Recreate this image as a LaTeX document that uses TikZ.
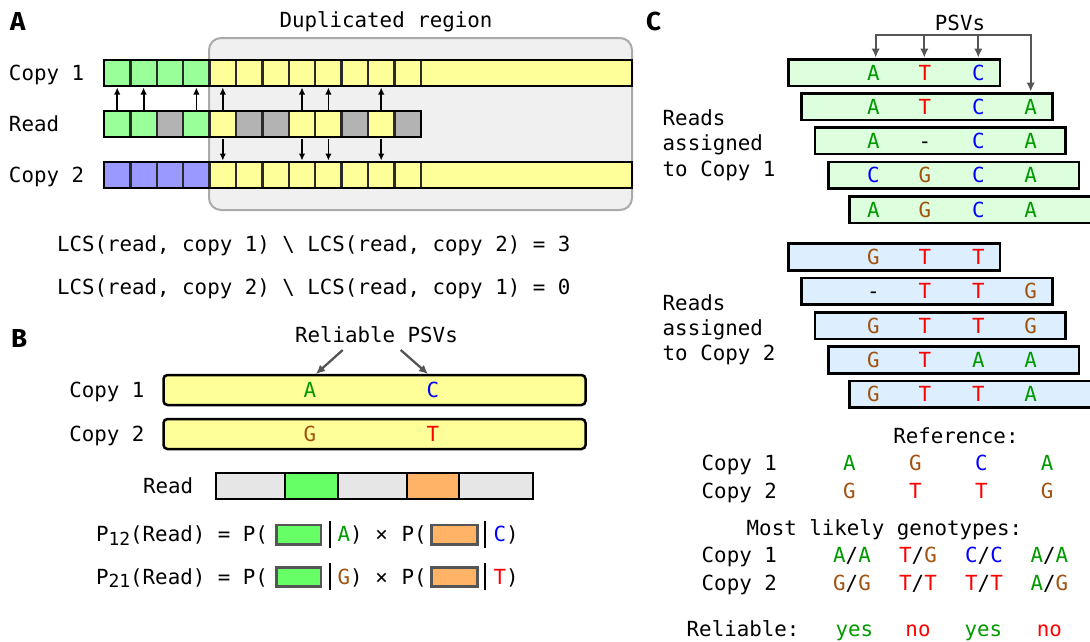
\documentclass[tikz,border=0pt]{standalone}
\usepackage{fontspec}
\setmonofont{DejaVu Sans Mono}
\newfontfamily\panelfont{Fira Sans}
\usetikzlibrary{arrows.meta}

\definecolor{cellG}{HTML}{99FF99}
\definecolor{cellY}{HTML}{FFFF99}
\definecolor{cellR}{HTML}{B3B3B3}
\definecolor{cellB}{HTML}{9999FF}
\definecolor{dupFill}{HTML}{F0F0F0}
\definecolor{dupLine}{HTML}{AAAAAA}
\definecolor{cellLine}{HTML}{2A2A2A}
\definecolor{segGray}{HTML}{E6E6E6}
\definecolor{segGreen}{HTML}{66FF66}
\definecolor{segOrange}{HTML}{FFB366}
\definecolor{boxLine}{HTML}{555555}
\definecolor{readOne}{HTML}{DDFFDD}
\definecolor{readTwo}{HTML}{DDEEFF}
\definecolor{ntA}{HTML}{009900}
\definecolor{ntC}{HTML}{0000FF}
\definecolor{ntG}{HTML}{A0520F}
\definecolor{ntT}{HTML}{FF0000}
\definecolor{arrGray}{HTML}{555555}

\newcommand\mono{\ttfamily\fontsize{20.8}{25}\selectfont}
\newcommand\nuc[1]{\csname nuc#1\endcsname}
\newcommand\nucA{\textcolor{ntA}{A}}
\newcommand\nucC{\textcolor{ntC}{C}}
\newcommand\nucG{\textcolor{ntG}{G}}
\newcommand\nucT{\textcolor{ntT}{T}}
\newcommand\nucN{-}
\newcommand\nucE{}

\tikzset{
  txt/.style={font=\mono, inner sep=0pt, outer sep=0pt},
  panel/.style={font=\panelfont\bfseries\fontsize{26}{26}\selectfont, inner sep=0pt, anchor=base west},
  cell/.style={draw=cellLine, line width=2.3pt, minimum width=26.4pt, minimum height=26pt, inner sep=0pt, outer sep=0pt},
  frame/.style={draw=black, line width=2.6pt},
  blackarrow/.style={draw=black, line width=1.8pt, -{Latex[length=7pt,width=6.5pt]}, shorten <=1.5pt, shorten >=1.5pt},
  grayarrow/.style={draw=arrGray, line width=2.3pt, -{Latex[length=9pt,width=8.5pt]}},
  copybar/.style={draw=black, line width=2.5pt, fill=cellY, rounded corners=4pt, minimum width=422pt, minimum height=30pt, inner sep=0pt, outer sep=0pt},
  seg/.style={draw=black, line width=2pt, minimum height=26.3pt, inner sep=0pt, outer sep=0pt},
  swatch/.style={draw=boxLine, line width=2.5pt, minimum height=19.3pt, inner sep=0pt, outer sep=0pt},
  rd/.style={draw=black, line width=2.5pt, minimum height=26.7pt, inner sep=0pt, outer sep=0pt},
}

\begin{document}
\begin{tikzpicture}[x=1pt, y=-1pt]
\useasboundingbox (0,0) rectangle (1090,641);

% ---------------- Panel A ----------------
\node[panel] (labA) at (10,30) {A};
\node[draw=dupLine, fill=dupFill, line width=2pt, rounded corners=12pt,
      minimum width=423pt, minimum height=172pt, inner sep=0pt] (dup) at (420.5,124) {};
\node[txt, anchor=base] (duptitle) at (386,27) {Duplicated region};

\node[txt, anchor=base west] (lc1) at (9,80) {Copy 1};
\node[txt, anchor=base west] (lrd) at (9,131.7) {Read};
\node[txt, anchor=base west] (lc2) at (9,182.7) {Copy 2};

% copy 1
\foreach \c [count=\i] in {cellG,cellG,cellG,cellG,cellY,cellY,cellY,cellY,cellY,cellY,cellY,cellY}
  \node[cell, fill=\c] (u\i) at ({104+(\i-0.5)*26.4},73) {};
\node[cell, fill=cellY, minimum width=211.2pt] (utail) at (526.4,73) {};
\draw[frame] (u1.north west) rectangle (utail.south east);

% read
\foreach \c [count=\i] in {cellG,cellG,cellR,cellG,cellY,cellR,cellR,cellY,cellY,cellR,cellY,cellR}
  \node[cell, fill=\c] (r\i) at ({104+(\i-0.5)*26.4},124) {};
\draw[frame] (r1.north west) rectangle (r12.south east);

% copy 2
\foreach \c [count=\i] in {cellB,cellB,cellB,cellB,cellY,cellY,cellY,cellY,cellY,cellY,cellY,cellY}
  \node[cell, fill=\c] (d\i) at ({104+(\i-0.5)*26.4},175) {};
\node[cell, fill=cellY, minimum width=211.2pt] (dtail) at (526.4,175) {};
\draw[frame] (d1.north west) rectangle (dtail.south east);

\foreach \i in {1,2,4,5,8,9,11} \draw[blackarrow] (r\i.north) -- (u\i.south);
\foreach \i in {5,8,9,11} \draw[blackarrow] (r\i.south) -- (d\i.north);

\node[txt, anchor=base west] (lcs1) at (57,251) {LCS(read, copy 1) \textbackslash{} LCS(read, copy 2) = 3};
\node[txt, anchor=base west] (lcs2) at (57,294) {LCS(read, copy 2) \textbackslash{} LCS(read, copy 1) = 0};

% ---------------- Panel B ----------------
\node[panel] (labB) at (11,347.5) {B};
\node[txt, anchor=base west] (rel) at (295,342.7) {Reliable PSVs};
\coordinate (relA) at (342.7,350);
\coordinate (relC) at (400.7,350);
\coordinate (tipA) at (316,374);
\coordinate (tipC) at (428,374);

\node[txt, anchor=base west] (bl1) at (69.3,397) {Copy 1};
\node[txt, anchor=base west] (bl2) at (69.3,441) {Copy 2};
\node[copybar] (bc1) at (374.5,390) {};
\node[copybar] (bc2) at (374.5,434) {};
\node[txt, anchor=base] (bA) at (310,397.6) {\nuc{A}};
\node[txt, anchor=base] (bC) at (433,397.6) {\nuc{C}};
\node[txt, anchor=base] (bG) at (310,441.6) {\nuc{G}};
\node[txt, anchor=base] (bT) at (433,441.6) {\nuc{T}};
\draw[grayarrow] (relA) -- (tipA);
\draw[grayarrow] (relC) -- (tipC);

\node[txt, anchor=base west] (brd) at (143,493.3) {Read};
\node[seg, fill=segGray,   minimum width=69pt]   (s1) at (250.5,486) {};
\node[seg, fill=segGreen,  minimum width=52.7pt] (s2) at (311.35,486) {};
\node[seg, fill=segGray,   minimum width=69pt]   (s3) at (372.2,486) {};
\node[seg, fill=segOrange, minimum width=52.3pt] (s4) at (432.85,486) {};
\node[seg, fill=segGray,   minimum width=74pt]   (s5) at (496,486) {};
\draw[frame] (s1.north west) rectangle (s5.south east);

% likelihood formulas
\foreach \y/\sub/\p/\q [count=\k] in {541.7/12/A/C, 584/21/G/T}{
  \node[txt, anchor=base west] (fl\k) at (96,\y)
     {P\raisebox{-3.5pt}{\fontsize{18}{18}\selectfont\sub}(Read) = P(};
  \node[swatch, fill=segGreen, minimum width=44.3pt] (fg\k) at (298.85,{\y-7.05}) {};
  \draw[line width=1.4pt] (330,{\y-20.7}) -- (330,{\y+6.3});
  \node[txt, anchor=base west] (fa\k) at (337.7,\y) {\nuc{\p})};
  \node[txt, anchor=base] (fx\k) at (381.7,\y) {×};
  \node[txt, anchor=base west] (fp\k) at (401.5,\y) {P(};
  \node[swatch, fill=segOrange, minimum width=46pt] (fo\k) at (454.7,{\y-7.05}) {};
  \draw[line width=1.4pt] (485,{\y-20.7}) -- (485,{\y+6.3});
  \node[txt, anchor=base west] (fb\k) at (493.7,\y) {\nuc{\q})};
}

% ---------------- Panel C ----------------
\node[panel] (labC) at (646,30) {C};
\node[txt, anchor=base] (psv) at (960,30) {PSVs};
\coordinate (bk1) at (875.7,35);
\coordinate (bk2) at (924.3,35);
\coordinate (bk3) at (978.3,35);
\coordinate (bk4) at (1030.7,35);
\coordinate (tp1) at (875.7,57.5);
\coordinate (tp2) at (924.3,57.5);
\coordinate (tp3) at (978.3,57.5);
\coordinate (tp4) at (1030.7,91.5);
\draw[draw=arrGray, line width=2.3pt, {Latex[length=9pt,width=8.5pt]}-{Latex[length=9pt,width=8.5pt]}]
  (tp1) -- (bk1) -- (bk4) -- (tp4);
\draw[grayarrow] (bk2) -- (tp2);
\draw[grayarrow] (bk3) -- (tp3);

\foreach \xl/\xr/\y/\a/\b/\c/\d [count=\k] in {
  788.3/1000/72.65/A/T/C/E,
  801.7/1052.3/106.65/A/T/C/A,
  815/1065.7/140.8/A/N/C/A,
  828.3/1079/175.2/C/G/C/A,
  849.3/1100/209.65/A/G/C/A}{
  \node[rd, fill=readOne, minimum width={\xr-\xl}] (one\k) at ({(\xl+\xr)/2},\y) {};
  \node[txt, anchor=base] (one\k-1) at (873.3,{\y+7.5}) {\nuc{\a}};
  \node[txt, anchor=base] (one\k-2) at (925,{\y+7.5}) {\nuc{\b}};
  \node[txt, anchor=base] (one\k-3) at (978.3,{\y+7.5}) {\nuc{\c}};
  \node[txt, anchor=base] (one\k-4) at (1030.7,{\y+7.5}) {\nuc{\d}};
}
\node[txt, anchor=base west] (ra1) at (662.7,125) {Reads};
\node[txt, anchor=base west] (ra2) at (662.7,150.5) {assigned};
\node[txt, anchor=base west] (ra3) at (662.7,176) {to Copy 1};

\foreach \xl/\xr/\y/\a/\b/\c/\d [count=\k] in {
  788.3/1000/257/G/T/T/E,
  801.7/1052.3/291.35/N/T/T/G,
  815/1065.7/325.65/G/T/T/G,
  828.3/1079/360/G/T/A/A,
  849.3/1100/394.2/G/T/T/A}{
  \node[rd, fill=readTwo, minimum width={\xr-\xl}] (two\k) at ({(\xl+\xr)/2},\y) {};
  \node[txt, anchor=base] (two\k-1) at (873.3,{\y+7.5}) {\nuc{\a}};
  \node[txt, anchor=base] (two\k-2) at (925,{\y+7.5}) {\nuc{\b}};
  \node[txt, anchor=base] (two\k-3) at (978.3,{\y+7.5}) {\nuc{\c}};
  \node[txt, anchor=base] (two\k-4) at (1030.7,{\y+7.5}) {\nuc{\d}};
}
\node[txt, anchor=base west] (rb1) at (662.7,310) {Reads};
\node[txt, anchor=base west] (rb2) at (662.7,335.3) {assigned};
\node[txt, anchor=base west] (rb3) at (662.7,360.7) {to Copy 2};

% reference alleles
\node[txt, anchor=base west] (refh) at (893.3,443.3) {Reference:};
\node[txt, anchor=base west] (rc1) at (701.7,470) {Copy 1};
\node[txt, anchor=base west] (rc2) at (701.7,498.3) {Copy 2};
\foreach \x/\a/\b [count=\k] in {849.5/A/G, 915.3/G/T, 981.3/C/T, 1047/A/G}{
  \node[txt, anchor=base] (ref1-\k) at (\x,470) {\nuc{\a}};
  \node[txt, anchor=base] (ref2-\k) at (\x,498.3) {\nuc{\b}};
}

% genotypes
\node[txt, anchor=base west] (genh) at (746.7,535) {Most likely genotypes:};
\node[txt, anchor=base west] (gc1) at (701.7,562.7) {Copy 1};
\node[txt, anchor=base west] (gc2) at (701.7,590.7) {Copy 2};
\foreach \x/\a/\b/\c/\d [count=\k] in {852/A/A/G/G, 918/T/G/T/T, 984/C/C/T/T, 1049.3/A/A/A/G}{
  \node[txt, anchor=base] (gen1-\k) at (\x,562.7) {\nuc{\a}/\nuc{\b}};
  \node[txt, anchor=base] (gen2-\k) at (\x,590.7) {\nuc{\c}/\nuc{\d}};
}

\node[txt, anchor=base west] (relh) at (686.7,636) {Reliable:};
\node[txt, anchor=base] (rl1) at (854.3,636) {\textcolor{ntA}{yes}};
\node[txt, anchor=base] (rl2) at (918,636) {\textcolor{ntT}{no}};
\node[txt, anchor=base] (rl3) at (983.3,636) {\textcolor{ntA}{yes}};
\node[txt, anchor=base] (rl4) at (1049.3,636) {\textcolor{ntT}{no}};
\end{tikzpicture}
\end{document}
